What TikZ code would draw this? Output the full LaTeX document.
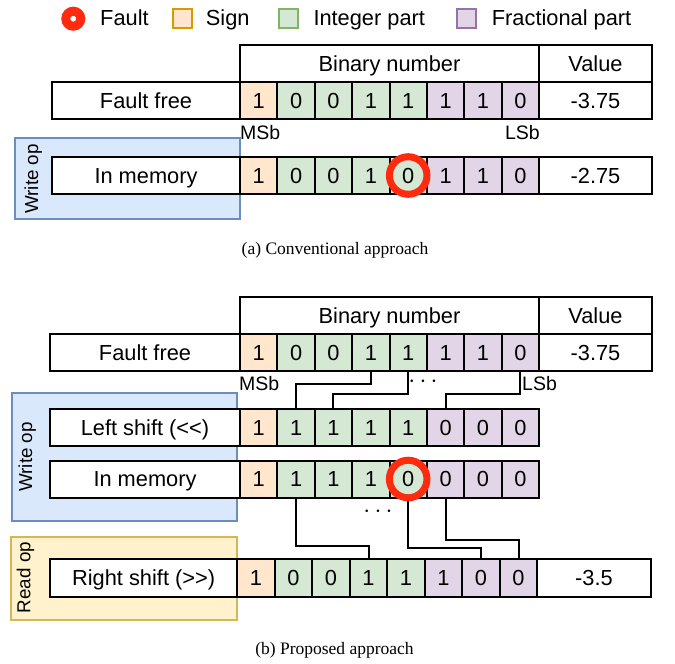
\documentclass[tikz,border=0pt]{standalone}
\usepackage{fontspec}
\setmainfont{Liberation Sans}
\newfontfamily\serifcap{Liberation Serif}

\definecolor{signfill}{HTML}{FFE6CC}
\definecolor{signline}{HTML}{D79B00}
\definecolor{intfill}{HTML}{D5E8D4}
\definecolor{intline}{HTML}{82B366}
\definecolor{fracfill}{HTML}{E1D5E7}
\definecolor{fracline}{HTML}{9673A6}
\definecolor{writefill}{HTML}{DAE8FC}
\definecolor{writeline}{HTML}{6C8EBF}
\definecolor{readfill}{HTML}{FFF2CC}
\definecolor{readline}{HTML}{D6B656}
\definecolor{faultred}{HTML}{FF2B0F}

\tikzset{
  txt/.style={font=\fontsize{21.8}{24}\selectfont, inner sep=0pt},
  cell/.style={txt, draw=black, line width=2pt, rectangle, text height=15.6pt, text depth=0pt},
  labelbox/.style={cell, fill=white, minimum height=37pt},
  valbox/.style={cell, fill=white, minimum width=113pt, minimum height=37pt},
  bitmark/.style={font=\fontsize{19.5}{22}\selectfont, inner sep=0pt},
  opbox/.style={line width=2pt},
  optext/.style={font=\fontsize{18.8}{22}\selectfont, inner sep=0pt, rotate=90, anchor=base},
  faultring/.style={circle, draw=faultred, line width=7pt, minimum size=37.6pt, inner sep=0pt},
  wire/.style={line width=2pt, draw=black},
  ellip/.style={font=\fontsize{24}{26}\selectfont, inner sep=0pt},
  caption/.style={font=\serifcap\fontsize{17.5}{20}\selectfont, inner sep=0pt, anchor=base},
  legbox/.style={rectangle, line width=2pt, minimum size=19pt, inner sep=0pt},
  legtext/.style={txt, anchor=base west},
}

% one row of eight bits: name prefix, left x, top y, cell width, cell height, bits
\newcommand\drawbitrow[6]{%
  \foreach \b [count=\i] in {#6}{%
    \ifnum\i=1 \def\cellcol{signfill}\else\ifnum\i<6 \def\cellcol{intfill}\else\def\cellcol{fracfill}\fi\fi
    \node[cell, fill=\cellcol, minimum width=#4pt, minimum height=#5pt]
      (#1-\i) at ({#2+(\i-0.5)*#4}, {#3+#5/2}) {\b};
  }%
}

\begin{document}
\begin{tikzpicture}[x=1pt, y=-1pt]
\useasboundingbox (0,0) rectangle (675,664);

% ---------------- legend ----------------
\node[circle, draw=faultred, line width=9pt, minimum size=15pt, inner sep=0pt] (legfault) at (73.3,18.7) {};
\node[legtext] (legfaulttxt) at (100,25.7) {Fault};
\node[legbox, draw=signline, fill=signfill] (legsign) at (182,18.3) {};
\node[legtext] (legsigntxt) at (205.7,25.7) {Sign};
\node[legbox, draw=intline, fill=intfill] (legint) at (288.3,18.3) {};
\node[legtext] (leginttxt) at (313.3,25.7) {Integer part};
\node[legbox, draw=fracline, fill=fracfill] (legfrac) at (466.7,18.3) {};
\node[legtext] (legfractxt) at (491.7,25.7) {Fractional part};

% ---------------- (a) conventional ----------------
\draw[opbox, draw=writeline, fill=writefill] (15,138) rectangle (240,219);
\node[optext] (awrite) at (38,179) {Write op};

\node[cell, fill=white, minimum width=299pt, minimum height=37pt] (ahead) at (389.5,63.5) {Binary number};
\node[valbox] (avalhead) at (595.5,63.5) {Value};

\node[labelbox, minimum width=188pt] (aff) at (146,100.5) {Fault free};
\drawbitrow{aff}{240}{82}{37.375}{37}{1,0,0,1,1,1,1,0}
\node[valbox] (affval) at (595.5,100.5) {-3.75};

\node[bitmark, anchor=base west] (amsb) at (240,139) {MSb};
\node[bitmark, anchor=base east] (alsb) at (540,139) {LSb};

\node[labelbox, minimum width=188pt] (aim) at (146,175.5) {In memory};
\drawbitrow{aim}{240}{157}{37.375}{37}{1,0,0,1,0,1,1,0}
\node[valbox] (aimval) at (595.5,175.5) {-2.75};
\node[faultring] (afault) at (aim-5) {};

\node[caption] (capa) at (335,254) {(a) Conventional approach};

% ---------------- (b) proposed ----------------
\draw[opbox, draw=writeline, fill=writefill] (12,393) rectangle (237,521);
\node[optext] (bwrite) at (32,457) {Write op};
\draw[opbox, draw=readline, fill=readfill] (11,537) rectangle (237.3,620);
\node[optext] (bread) at (30.5,577.5) {Read op};

\node[cell, fill=white, minimum width=299pt, minimum height=37pt] (bhead) at (389.5,315.5) {Binary number};
\node[valbox] (bvalhead) at (595.5,315.5) {Value};

\node[labelbox, minimum width=190pt] (bff) at (145,352.5) {Fault free};
\drawbitrow{bff}{240}{334}{37.375}{37}{1,0,0,1,1,1,1,0}
\node[valbox] (bffval) at (595.5,352.5) {-3.75};

\node[bitmark, anchor=base west] (bmsb) at (239,390) {MSb};
\node[bitmark, anchor=base west] (blsb) at (522,390) {LSb};

\node[labelbox, minimum width=190pt] (bls) at (145,427.5) {Left shift (<{}<)};
\drawbitrow{bls}{240}{409}{37.375}{37}{1,1,1,1,1,0,0,0}

\node[labelbox, minimum width=190pt] (bim) at (145,479) {In memory};
\drawbitrow{bim}{240}{460.5}{37.375}{37}{1,1,1,1,0,0,0,0}

\node[labelbox, minimum width=187.3pt, minimum height=37.4pt] (brs) at (143.65,578) {Right shift (>{}>)};
\drawbitrow{brs}{237.3}{559.3}{37.5}{37.4}{1,0,0,1,1,1,0,0}
\node[valbox, minimum width=113.2pt, minimum height=37.4pt] (brsval) at (593.9,578) {-3.5};

% left shift wiring
\draw[wire] (bff-4.south) -- ++(0,12) -| (bls-2.north);
\draw[wire] (bff-5.south) -- ++(0,22) -| (bls-3.north);
\draw[wire] (bff-8.south) -- ++(0,22) -| (bls-6.north);
\node[ellip] (bdotsup) at (423,382) {$\cdots$};

% right shift wiring
\draw[wire] (bim-2.south) -- ++(0,47) -| (brs-4.north);
\draw[wire] (bim-5.south) -- ++(0,49.5) -| (brs-7.north);
\draw[wire] (bim-6.south) -- ++(0,41.5) -| (brs-8.north);
\node[ellip] (bdotsdown) at (378,512) {$\cdots$};

\node[faultring] (bfault) at (bim-5) {};

\node[caption] (capb) at (334.5,654) {(b) Proposed approach};
\end{tikzpicture}
\end{document}
